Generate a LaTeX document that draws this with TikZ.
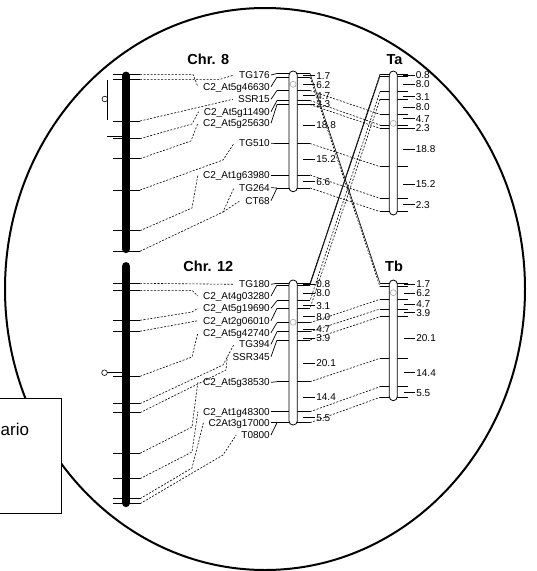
\documentclass[tikz,border=0pt]{standalone}
\usepackage{fontspec}
\setmainfont{Liberation Sans}
\begin{document}
\begin{tikzpicture}[x=1pt,y=-1pt]
\tikzset{
 mk/.style={line width=0.7pt},
 dsh/.style={dash pattern=on 2pt off 1.5pt, line width=0.6pt},
 lbl/.style={font=\fontsize{10}{12}\selectfont, inner sep=0pt, text height=7.2pt, text depth=0pt},
 ttl/.style={font=\bfseries\fontsize{14.5}{16}\selectfont, inner sep=0pt, text height=10.4pt, text depth=0pt},
 lg/.style={draw=black, line width=0.8pt, fill=white, rounded corners=4pt},
 cen/.style={draw=gray!70, line width=0.6pt},
 blk/.style={line width=8.3pt, line cap=round},
 frame/.style={line width=2pt},
}
\useasboundingbox (0,0) rectangle (537,571);
\clip (0,0) rectangle (537,571);
% big ellipse
\draw[frame] (265,289) ellipse [x radius=260pt, y radius=281pt];

% titles
\node[ttl] (t8) at (208.3,59) {Chr. 8};
\node[ttl] (t12) at (208.3,266.7) {Chr. 12};
\node[ttl] (tTa) at (394.5,59) {Ta};
\node[ttl] (tTb) at (394,266.7) {Tb};

% ---- black chromosomes ----
\draw[blk] (126,75.7) -- (126,249);
\draw[blk] (126,266.2) -- (126,503);
\foreach \y [count=\i] in {74.3,79.3,121,138.7,158.7,190,230.7,251.3}{
  \draw[mk] (113,\y) -- (140,\y) coordinate (k8-\i);
}
\foreach \y [count=\i] in {283.3,290.3,320.3,331.3,376.3,403.7,412.7,453.3,478.7,498.7,503.7}{
  \draw[mk] (113,\y) -- (140,\y) coordinate (k12-\i);
}
% centromere marks
\draw[mk] (107.7,80) -- (107.7,120);
\draw[line width=0.6pt] (104.8,99) circle[radius=2.8pt];
\draw[mk] (107,136.7) -- (122,136.7);
\draw[mk] (107.3,372.7) -- (122,372.7);
\draw[line width=0.6pt] (104.5,372.7) circle[radius=2.8pt];

% ---- Chr. 8 linkage ----
\foreach \y [count=\i] in {73.5,77,90.5,100.5,104.5,143.5,175,188}{
  \draw[mk] (277,\y) coordinate (aL\i) -- (310,\y) coordinate (aR\i);
}
\draw[lg] (289,71) rectangle (297.3,191.7);
\draw[cen] (293.15,84.3) circle[radius=3pt];
\foreach \y/\t in {75.8/1.7,84.5/6.2,95.6/4.7,104.3/2.3,125/18.8,159/15.2,181.7/6.6}{
  \draw[mk] (303,\y) -- (315,\y) node[lbl,anchor=west,xshift=1pt]{\t};
}
% ---- Ta ----
\foreach \y [count=\i] in {74.3,76,91.7,99.3,114.3,125,128.3,166.7,198.3,211.7}{
  \draw[mk] (380,\y) coordinate (bL\i) -- (408,\y);
}
\draw[lg] (389.3,71) rectangle (397.3,215);
\draw[cen] (393.3,123.3) circle[radius=3pt];
\foreach \y/\t in {75/0.8,84.3/8.0,96.7/3.1,107.3/8.0,118.8/4.7,128.2/2.3,149.3/18.8,184.3/15.2,204.7/2.3}{
  \draw[mk] (403.3,\y) -- (414.5,\y) node[lbl,anchor=west,xshift=1pt]{\t};
}
% ---- Chr. 12 linkage ----
\foreach \y [count=\i] in {283.3,285,300.7,308.3,322.7,331.7,340,381.7,411.7,422.7}{
  \draw[mk] (277,\y) coordinate (cL\i) -- (310,\y) coordinate (cR\i);
}
\draw[lg] (289,280) rectangle (297.3,425);
\draw[cen] (293.15,322.3) circle[radius=3pt];
\foreach \y/\t in {284.3/0.8,293.3/8.0,305.7/3.1,316.7/8.0,329.3/4.7,338.3/3.9,363.3/20.1,397.3/14.4,417.7/5.5}{
  \draw[mk] (303,\y) -- (315,\y) node[lbl,anchor=west,xshift=1pt]{\t};
}
% ---- Tb ----
\foreach \y [count=\i] in {283.3,286.7,299.3,309,316.7,358.3,386.7,397.3}{
  \draw[mk] (380,\y) coordinate (dL\i) -- (408,\y);
}
\draw[lg] (389.3,280) rectangle (397.3,400.7);
\draw[cen] (393.3,292.7) circle[radius=3pt];
\foreach \y/\t in {284.3/1.7,293.3/6.2,304.3/4.7,312.7/3.9,338.3/20.1,372.7/14.4,392.7/5.5}{
  \draw[mk] (404,\y) -- (415,\y) node[lbl,anchor=west,xshift=1pt]{\t};
}

% ---- marker labels Chr. 8 ----
\node[lbl,anchor=east] (p1) at (270,75) {TG176};
\node[lbl,anchor=east] (p2) at (270,86.7) {C2\_At5g46630};
\node[lbl,anchor=east] (p3) at (270,99.3) {SSR15};
\node[lbl,anchor=east] (p4) at (270,111.7) {C2\_At5g11490};
\node[lbl,anchor=east] (p5) at (270,123.3) {C2\_At5g25630};
\node[lbl,anchor=east] (p6) at (270,143.3) {TG510};
\node[lbl,anchor=east] (p7) at (270,175) {C2\_At1g63980};
\node[lbl,anchor=east] (p8) at (270,187.7) {TG264};
\node[lbl,anchor=east] (p9) at (270,200.7) {CT68};
\foreach \n/\m in {1/1,2/2,3/3,4/4,5/5,6/6,7/7,8/8,9/8}{
  \draw[mk] ([xshift=1pt]p\n.east) -- (aL\m);
}
% ---- marker labels Chr. 12 ----
\node[lbl,anchor=east] (q1) at (270,284.3) {TG180};
\node[lbl,anchor=east] (q2) at (270,296) {C2\_At4g03280};
\node[lbl,anchor=east] (q3) at (270,308.3) {C2\_At5g19690};
\node[lbl,anchor=east] (q4) at (270,320.7) {C2\_At2g06010};
\node[lbl,anchor=east] (q5) at (270,332.7) {C2\_At5g42740};
\node[lbl,anchor=east] (q6) at (270,344.3) {TG394};
\node[lbl,anchor=east] (q7) at (270,356.7) {SSR345};
\node[lbl,anchor=east] (q8) at (270,382.3) {C2\_At5g38530};
\node[lbl,anchor=east] (q9) at (270,411.7) {C2\_At1g48300};
\node[lbl,anchor=east] (q10) at (270,422.7) {C2At3g17000};
\node[lbl,anchor=east] (q11) at (270,435) {T0800};
\foreach \n/\m in {1/1,2/2,3/3,4/4,5/5,6/6,7/7,8/8,9/9,10/10,11/10}{
  \draw[mk] ([xshift=1pt]q\n.east) -- (cL\m);
}

% ---- dashed links black chromosome -> labels (Chr. 8) ----
\draw[dsh] (k8-1) -- (193,74.3) -- ([xshift=-5pt]p2.west);
\draw[dsh] (k8-2) -- (220,79.3) -- ([xshift=-5pt]p1.west);
\draw[dsh] (k8-3) -- ([xshift=-5pt]p3.west);
\draw[dsh] (k8-4) -- (192,124) -- ([xshift=-5pt]p4.west);
\draw[dsh] (k8-5) -- (191,141) -- ([xshift=-5pt]p5.west);
\draw[dsh] (k8-6) -- (223,160) -- ([xshift=-5pt]p6.west);
\draw[dsh] (k8-7) -- (192,208) -- ([xshift=-5pt]p7.west);
\draw[dsh] (k8-8) -- (223,212) coordinate (j8) -- ([xshift=-5pt]p8.west);
\draw[dsh] (j8) -- ([xshift=-5pt]p9.west);
% ---- dashed links (Chr. 12) ----
\draw[dsh] (k12-1) -- ([xshift=-5pt]q1.west);
\draw[dsh] (k12-2) -- (192,290.3) -- ([xshift=-5pt]q2.west);
\draw[dsh] (k12-3) -- (192,312) -- ([xshift=-5pt]q3.west);
\draw[dsh] (k12-4) -- ([xshift=-5pt]q4.west);
\draw[dsh] (k12-5) -- (192,357) -- ([xshift=-5pt]q5.west);
\draw[dsh] (k12-6) -- (223,365) -- ([xshift=-5pt]q6.west);
\draw[dsh] (k12-7) -- (226,370) -- ([xshift=-5pt]q7.west);
\draw[dsh] (k12-8) -- (192,427) -- ([xshift=-5pt]q8.west);
\draw[dsh] (k12-9) -- (192,452) -- ([xshift=-5pt]q9.west);
\draw[dsh] (k12-10) -- (192,468) -- ([xshift=-5pt]q10.west);
\draw[dsh] (k12-11) -- (223,455) -- ([xshift=-5pt]q11.west);

% ---- links between linkage groups ----
\draw[line width=0.6pt] (aR1) -- (dL1);
\draw[dsh] (aR2) -- (dL2);
\foreach \a/\b in {3/5,4/6,5/7,6/8,7/9,8/10}{
  \draw[dsh] (aR\a) -- (bL\b);
}
\draw[line width=0.6pt] (bL1) -- (cR1);
\draw[line width=0.6pt] (bL2) -- (cR2);
\draw[dsh] (bL3) -- (cR3);
\draw[dsh] (bL4) -- (cR4);
\foreach \a/\b in {5/3,6/4,7/5,8/6,9/7,10/8}{
  \draw[dsh] (cR\a) -- (dL\b);
}

% ---- box at lower left ----
\draw[line width=0.9pt, fill=white] (-10,398) rectangle (61,513);
\node[font=\fontsize{17}{20}\selectfont, inner sep=0pt, anchor=base west] (box) at (0.5,435) {ario};
\end{tikzpicture}
\end{document}
